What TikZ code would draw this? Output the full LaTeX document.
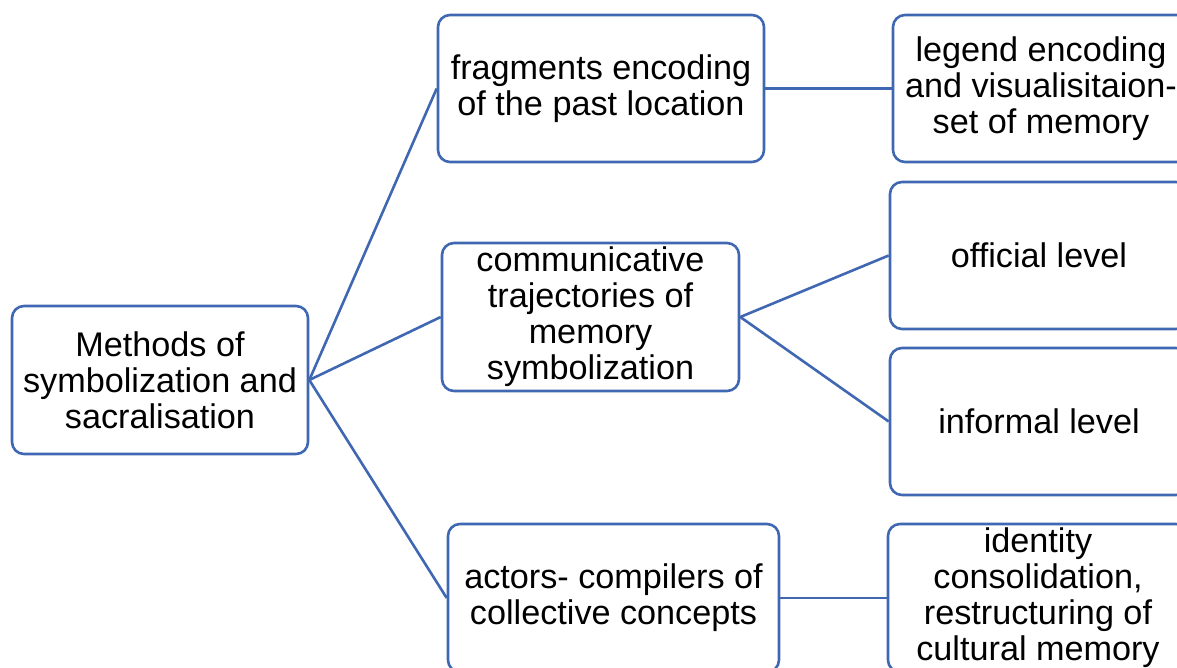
\documentclass[tikz,border=0pt]{standalone}
\usepackage{fontspec}
\setmainfont{Liberation Sans}
\definecolor{boxblue}{RGB}{64,104,178}
\tikzset{
    box/.style={draw=boxblue, line width=2.6pt, rounded corners=12pt, align=center,
        inner sep=0pt, fill=white, font=\fontsize{34.2}{36}\selectfont},
    link/.style={draw=boxblue, line width=2.6pt},
}
\begin{document}
\begin{tikzpicture}[x=1pt, y=-1pt]
    \useasboundingbox (0,0) rectangle (1177,668);

    \node[box, minimum width=296pt, minimum height=148pt] (root) at (160,380)
        {Methods of\\symbolization and\\sacralisation};

    \node[box, minimum width=326pt, minimum height=147pt] (frag) at (601,88.5)
        {fragments encoding\\of the past location};
    \node[box, minimum width=297pt, minimum height=148pt] (comm) at (590.5,317)
        {communicative\\trajectories of\\memory\\symbolization};
    \node[box, minimum width=331pt, minimum height=148pt] (actor) at (613.5,598)
        {actors- compilers of\\collective concepts};

    \node[box, minimum width=296pt, minimum height=147pt] (legend) at (1041,88.5)
        {legend encoding\\and visualisitaion-\\set of memory};
    \node[box, minimum width=298pt, minimum height=147pt] (official) at (1039,255.5)
        {official level};
    \node[box, minimum width=298pt, minimum height=147pt] (informal) at (1039,421.5)
        {informal level};
    \node[box, minimum width=300pt, minimum height=148pt] (identity) at (1038,598)
        {identity\\consolidation,\\restructuring of\\cultural memory};

    \draw[link] (root.east) -- (frag.west);
    \draw[link] (root.east) -- (comm.west);
    \draw[link] (root.east) -- (actor.west);
    \draw[link] (frag.east) -- (legend.west);
    \draw[link] (comm.east) -- (official.west);
    \draw[link] (comm.east) -- (informal.west);
    \draw[link] (actor.east) -- (identity.west);

\end{tikzpicture}
\end{document}
